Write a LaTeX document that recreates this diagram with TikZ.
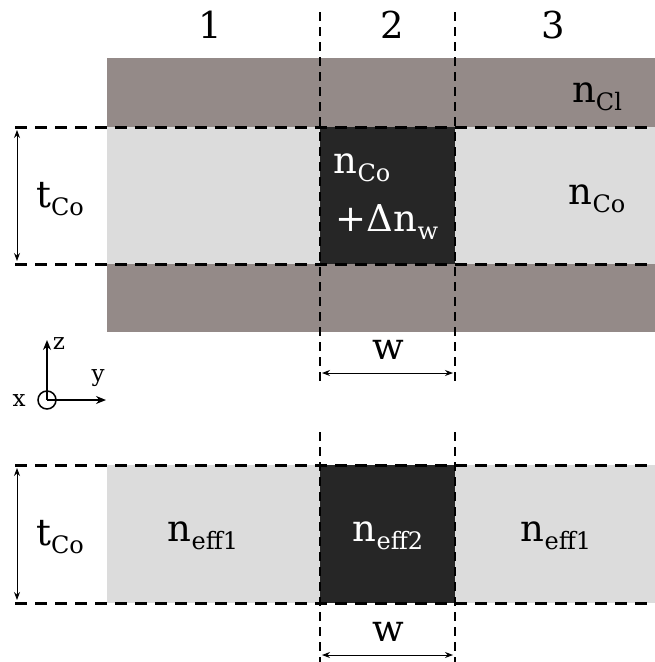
\documentclass[tikz,border=0pt]{standalone}
\usepackage{fontspec}
\setmainfont{DejaVu Serif}
\usetikzlibrary{arrows.meta}
\definecolor{clad}{RGB}{148,138,136}
\definecolor{core}{RGB}{220,220,220}
\definecolor{wg}{RGB}{38,38,38}
\newcommand{\sbs}[1]{\raisebox{-8pt}{\fontsize{24}{26}\selectfont #1}}
\tikzset{
  lbl/.style={font=\fontsize{37}{42}\selectfont, inner sep=0pt},
  wlbl/.style={lbl, text=white},
  hdash/.style={line width=3pt, dash pattern=on 12pt off 8pt},
  vdash/.style={line width=1.3pt, dash pattern=on 9pt off 6pt},
  dimarr/.style={line width=1pt, {Stealth[length=8pt,width=6pt]}-{Stealth[length=8pt,width=6pt]}},
  axarr/.style={line width=1.5pt, -{Stealth[length=10pt,width=8pt]}},
  axlbl/.style={font=\fontsize{23}{25}\selectfont, inner sep=0pt},
}
\begin{document}
\begin{tikzpicture}[x=1pt,y=-1pt]
\useasboundingbox (0,0) rectangle (655,662);
% ---- top cross-section ----
\fill[clad] (107,58) rectangle (655,332);
\fill[core] (107,127) rectangle (655,264);
\fill[wg] (320,127) rectangle (455,264);
\draw[vdash] (320,12) -- (320,385);
\draw[vdash] (455,12) -- (455,385);
\draw[hdash] (15,127) -- (655,127);
\draw[hdash] (15,264) -- (655,264);
\node[lbl] (r1) at (210,25) {1};
\node[lbl] (r2) at (392,25) {2};
\node[lbl] (r3) at (553,25) {3};
\node[lbl] (ncl) at (597,97) {n\sbs{Cl}};
\node[lbl] (nco) at (597,199) {n\sbs{Co}};
\node[wlbl] (ncow) at (362,168) {n\sbs{Co}};
\node[wlbl] (dnw) at (387,222) {+Δn\sbs{w}};
\node[lbl] (tco1) at (60,199) {t\sbs{Co}};
\coordinate (ta1) at (17,130);
\coordinate (tb1) at (17,261);
\draw[dimarr] (ta1) -- (tb1);
\node[lbl] (w1) at (388,350) {w};
\coordinate (wa1) at (322,373);
\coordinate (wb1) at (453,373);
\draw[dimarr] (wa1) -- (wb1);
% ---- axes ----
\node[draw, circle, line width=1.5pt, minimum size=18pt, inner sep=0pt] (ax) at (47,400) {};
\coordinate (axc) at (47,400);
\coordinate (zt) at (47,340);
\coordinate (yt) at (106,400);
\draw[axarr] (axc) -- (zt);
\draw[axarr] (axc) -- (yt);
\node[axlbl] (xl) at (19,401) {x};
\node[axlbl] (zl) at (59,344) {z};
\node[axlbl] (yl) at (98,378) {y};
% ---- bottom slab ----
\fill[core] (107,465) rectangle (655,603);
\fill[wg] (320,465) rectangle (455,603);
\draw[vdash] (320,432) -- (320,662);
\draw[vdash] (455,432) -- (455,662);
\draw[hdash] (15,465) -- (655,465);
\draw[hdash] (15,603) -- (655,603);
\node[lbl] (tco2) at (60,537) {t\sbs{Co}};
\coordinate (ta2) at (17,468);
\coordinate (tb2) at (17,600);
\draw[dimarr] (ta2) -- (tb2);
\node[lbl] (ne1) at (203,536) {n\sbs{eff1}};
\node[wlbl] (ne2) at (388,536) {n\sbs{eff2}};
\node[lbl] (ne3) at (556,536) {n\sbs{eff1}};
\node[lbl] (w2) at (388,632) {w};
\coordinate (wa2) at (322,655);
\coordinate (wb2) at (453,655);
\draw[dimarr] (wa2) -- (wb2);
\end{tikzpicture}
\end{document}
